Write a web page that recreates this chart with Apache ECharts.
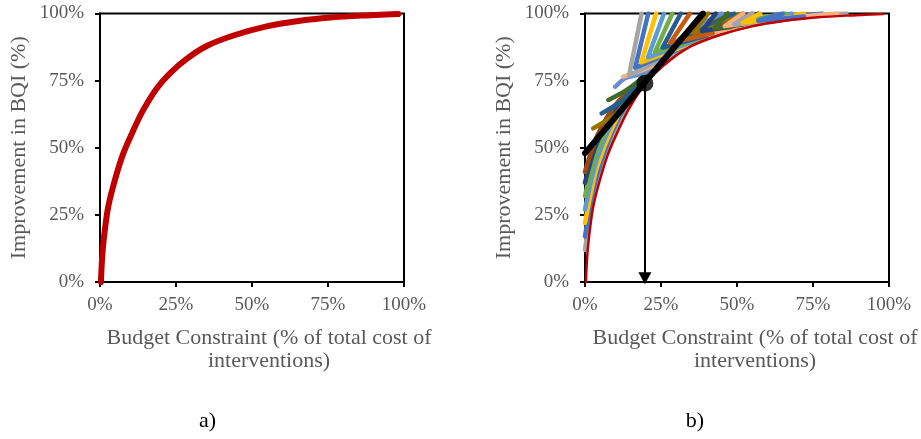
<!DOCTYPE html>
<html>
<head>
<meta charset="utf-8">
<script src="https://cdn.jsdelivr.net/npm/echarts@6/dist/echarts.min.js"></script>
<style>
  html, body { margin: 0; padding: 0; background: #fff; }
  #chart { width: 921px; height: 439px; }
</style>
</head>
<body>
<div id="chart"></div>
<script>
// Axis ticks (percent)
const tickValues = [0, 25, 50, 75, 100];

// Budget / BQI improvement curve (percent)
const budgetPct = [0.3, 0.8, 1.6, 2.7, 4.9, 7.7, 11, 14.2, 18.6, 23, 28.5, 35.1, 43.9, 54.8, 65.8, 76.8, 87.7, 98.1];
const bqiPct    = [0, 10.7, 19.4, 28, 38, 48, 56.6, 64, 72, 77.7, 83.1, 87.9, 91.8, 95.2, 97.3, 98.6, 99.3, 99.8];

// Chosen budget point and its tangent line
const chosenPoint = [19.7, 74];
const tangentLine = [[0, 48], [38.8, 100]];
const arrowEndY = 1.4;

// Scenario curves starting on the vertical axis
const fanGray   = [[0,12],[2,27],[4,37],[9,54],[14,66],[19.7,74.5],[26.3,82.6],[35,88.9],[46,93.0],[59,96.5],[74.6,99.0],[86,100]];
const fanBlue   = [[0,17],[2,30],[4,40],[9,56],[14,66.8],[19.7,74.8],[26.3,82.9],[35,89.4],[46,93.5],[59,97.0],[78,100]];
const fanYellow = [[0,22],[2,33.5],[4,43],[9,57.5],[14,67.6],[19.7,75],[26.3,83.2],[35,89.9],[46,94.0],[59,97.5],[72,100]];
const fanLBlue  = [[0,27],[2,37.5],[4,46],[9,59.5],[14,68.4],[19.7,75.2],[26.3,83.5],[35,90.4],[46,94.5],[59,98.0],[68,100]];
const fanGreen  = [[0,32],[2,41.5],[4,49],[9,61.5],[14,69.2],[19.7,75.4],[26.3,83.8],[35,90.9],[46,95.0],[59,98.6],[66,100]];
const fanDBlue  = [[0,37],[2,45.5],[4,52],[9,63],[14,70],[19.7,75.6],[26.3,84.1],[35,91.4],[46,95.6],[57,100]];
const fanBrown  = [[0,41],[2,48.5],[4,54.5],[9,64.5],[14,70.6],[19.7,75.8],[26.3,84.4],[35,91.9],[46,96.2],[55,100]];

// Scenario curves starting inside the plot
const midDYellow = [[2.7,57.2],[10.4,62.8],[19.7,76.3],[26.3,84.8],[35,92.4],[44,96.8],[52,100]];
const midDBlue   = [[5.5,62.8],[12.6,67.8],[19.7,76.6],[26.3,85.2],[35,92.8],[43,97.2],[49,100]];
const midDGreen  = [[7.7,67.8],[13,71],[19.7,77],[26.3,85.6],[35,93.3],[47,100]];
const midSteel   = [[9.9,72.7],[13.2,75.9],[19.7,78],[26.3,86],[35,93.8],[45,100]];
const midSalmon  = [[12.6,76.5],[17.5,78.3],[24,81.5],[35,89.5],[46,94],[59,97.5],[83,100]];

// Bent scenario curves (top, vertex, lower end)
const bentGray    = [[18.6,100],[14.5,77],[30,85.6]];
const bentBlue    = [[20.8,100],[16.5,79.8],[32,87.2]];
const bentYellow  = [[23.4,100],[18.5,81.8],[34,88.5]];
const bentLBlue   = [[26,100],[20.7,83.7],[36,89.7]];
const bentGreen   = [[28.7,100],[23,85.6],[38,90.8]];
const bentDBlue   = [[31.5,100],[25.5,87.3],[40,91.8]];
const bentOrange  = [[34.5,100],[28,89],[42,92.6]];
const bentDYellow = [[40.5,100],[35.5,93],[48,95]];
const bentDBlue2  = [[43,100],[38.5,93.5],[52,96]];
const bentDGreen  = [[47,100],[42.5,94.5],[56,96.8]];
const bentSalmon  = [[52,100],[46,95.3],[60,97.5]];
const bentGray2   = [[55,100],[49,96],[64,98]];
const bentYellow2 = [[57.6,100],[52,96.6],[68,98.5]];
const bentBlue2   = [[65,100],[57,97.3],[72,98.9]];

const SERIF = 'Liberation Serif';
const GREY_TEXT = '#595959';

const curvePairs = budgetPct.map((x, i) => [x, bqiPct[i]]);

function xAxisFor(gi) {
  return {
    gridIndex: gi, type: 'value',
    min: tickValues[0], max: tickValues[tickValues.length - 1], interval: 25,
    axisLine: { show: true, onZero: false, lineStyle: { color: '#000', width: 2 } },
    axisTick: { show: true, inside: false, length: 5, lineStyle: { color: '#000', width: 2 } },
    splitLine: { show: false },
    axisLabel: { formatter: '{value}%', color: GREY_TEXT, fontFamily: SERIF, fontSize: 19, margin: 14 }
  };
}
function yAxisFor(gi) {
  return {
    gridIndex: gi, type: 'value',
    min: tickValues[0], max: tickValues[tickValues.length - 1], interval: 25,
    axisLine: { show: true, onZero: false, lineStyle: { color: '#000', width: 2 } },
    axisTick: { show: true, inside: false, length: 5, lineStyle: { color: '#000', width: 2 } },
    splitLine: { show: false },
    axisLabel: { formatter: '{value}%', color: GREY_TEXT, fontFamily: SERIF, fontSize: 19, margin: 16 }
  };
}

function lineOn(gi, data, color, width, z, smooth) {
  return {
    type: 'line', xAxisIndex: gi, yAxisIndex: gi, data: data,
    showSymbol: false, symbol: 'none', silent: true, animation: false,
    smooth: smooth || false,
    lineStyle: { color: color, width: width, cap: 'round', join: 'round' },
    z: z || 2
  };
}

const fanCurves = [
  [fanGray, '#A5A5A5'], [fanBlue, '#4472C4'], [fanYellow, '#FFC000'], [fanLBlue, '#5B9BD5'],
  [fanGreen, '#70AD47'], [fanDBlue, '#264478'], [fanBrown, '#9E480E']
];
const midCurves = [
  [midDYellow, '#997300'], [midDBlue, '#255E91'], [midDGreen, '#43682B'], [midSteel, '#698ED0'], [midSalmon, '#F4B183']
];
const bentCurves = [
  [bentGray, '#A5A5A5'], [bentBlue, '#4472C4'], [bentYellow, '#FFC000'], [bentLBlue, '#5B9BD5'],
  [bentGreen, '#70AD47'], [bentDBlue, '#255E91'], [bentOrange, '#C55A11'], [bentDYellow, '#997300'],
  [bentDBlue2, '#264478'], [bentDGreen, '#43682B'], [bentSalmon, '#F4B183'], [bentGray2, '#A5A5A5'],
  [bentYellow2, '#FFC000'], [bentBlue2, '#4472C4']
];

const series = [lineOn(0, curvePairs, '#C00000', 6, 3, 0.3)];
fanCurves.forEach(([d, c]) => series.push(lineOn(1, d, c, 4.5, 2, 0.3)));
midCurves.forEach(([d, c]) => series.push(lineOn(1, d, c, 4.5, 2, 0.2)));
bentCurves.forEach(([d, c]) => series.push(lineOn(1, d, c, 4.5, 2, false)));
series.push(lineOn(1, curvePairs, '#C00000', 2.5, 3, 0.3));
series.push(lineOn(1, tangentLine, '#000', 6, 4));
series.push({
  type: 'scatter', xAxisIndex: 1, yAxisIndex: 1, data: [chosenPoint],
  symbol: 'circle', symbolSize: 17, itemStyle: { color: '#000' }, z: 6, silent: true, animation: false,
  markLine: {
    silent: true, animation: false,
    symbol: ['none', 'triangle'], symbolSize: [13, 12],
    label: { show: false },
    lineStyle: { color: '#000', width: 2, type: 'solid' },
    data: [[{ coord: chosenPoint }, { coord: [chosenPoint[0], arrowEndY] }]]
  }
});

const titleFont = { fontFamily: SERIF, fontSize: 22, fill: GREY_TEXT };

const chart = echarts.init(document.getElementById('chart'), null, { renderer: 'canvas' });
chart.setOption({
  animation: false,
  backgroundColor: '#fff',
  grid: [
    { left: 100, top: 13.5, width: 304, height: 268.5, show: true, borderColor: '#000', borderWidth: 2, backgroundColor: 'transparent' },
    { left: 585, top: 13.5, width: 304, height: 268.5, show: true, borderColor: '#000', borderWidth: 2, backgroundColor: 'transparent' }
  ],
  xAxis: [xAxisFor(0), xAxisFor(1)],
  yAxis: [yAxisFor(0), yAxisFor(1)],
  series: series,
  graphic: [
    { type: 'text', x: 19, y: 147.75, rotation: Math.PI / 2,
      style: Object.assign({ text: 'Improvement in BQI (%)', align: 'center', verticalAlign: 'middle' }, titleFont) },
    { type: 'text', x: 504, y: 147.75, rotation: Math.PI / 2,
      style: Object.assign({ text: 'Improvement in BQI (%)', align: 'center', verticalAlign: 'middle' }, titleFont) },
    { type: 'text', x: 269, y: 350,
      style: Object.assign({ text: 'Budget Constraint (% of total cost of\ninterventions)', align: 'center', verticalAlign: 'middle', lineHeight: 23 }, titleFont) },
    { type: 'text', x: 755, y: 350,
      style: Object.assign({ text: 'Budget Constraint (% of total cost of\ninterventions)', align: 'center', verticalAlign: 'middle', lineHeight: 23 }, titleFont) },
    { type: 'text', x: 207.5, y: 421,
      style: { text: 'a)', align: 'center', verticalAlign: 'middle', fontFamily: SERIF, fontSize: 22, fill: '#000' } },
    { type: 'text', x: 695, y: 421,
      style: { text: 'b)', align: 'center', verticalAlign: 'middle', fontFamily: SERIF, fontSize: 22, fill: '#000' } }
  ]
});
</script>
</body>
</html>
